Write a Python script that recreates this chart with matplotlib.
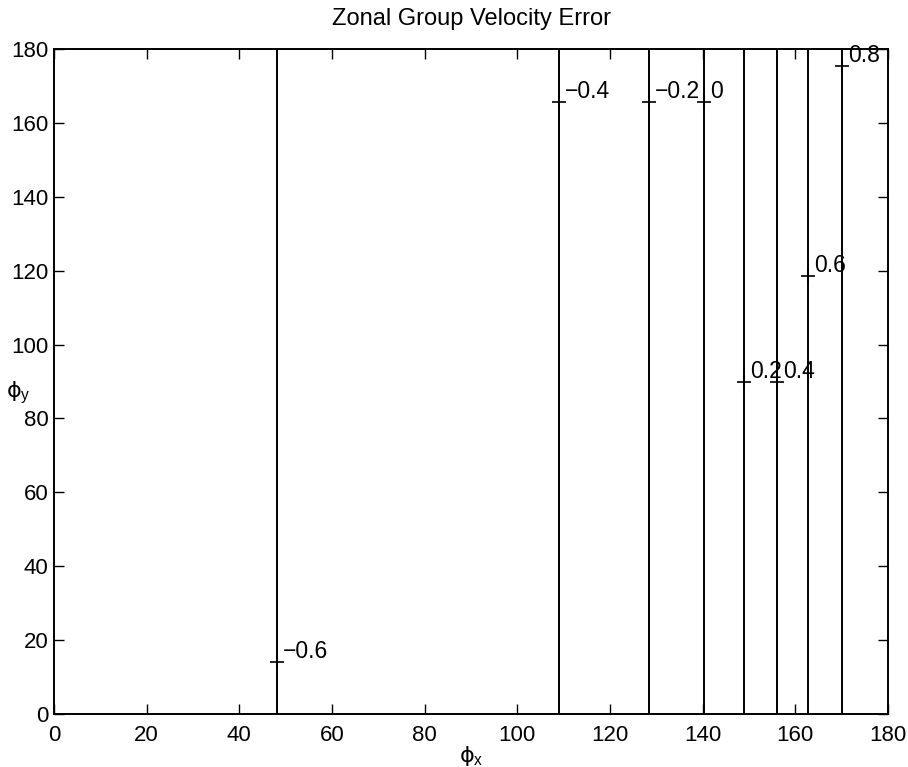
import matplotlib
matplotlib.use("Agg")
import matplotlib.pyplot as plt

plt.rcParams['font.family'] = ['Liberation Sans', 'DejaVu Sans']
plt.rcParams['mathtext.fontset'] = 'dejavusans'

# contour levels, their x positions (phi_x) and label y positions (phi_y)
levels = [-0.6, -0.4, -0.2, 0.0, 0.2, 0.4, 0.6, 0.8]
line_x = [48.1, 109.0, 128.4, 140.3, 148.9, 156.1, 162.8, 170.1]
label_y = [14.2, 165.7, 165.7, 165.7, 90.0, 90.0, 118.6, 175.4]
level_text = ['\u22120.6', '\u22120.4', '\u22120.2', '0', '0.2', '0.4', '0.6', '0.8']

xticks = [0, 20, 40, 60, 80, 100, 120, 140, 160, 180]
yticks = [0, 20, 40, 60, 80, 100, 120, 140, 160, 180]

fig = plt.figure(figsize=(9.08, 7.67), dpi=100)
ax = fig.add_axes([54/908, 53/767, 834/908, 665/767])

for x in line_x:
    ax.plot([x, x], [0, 180], color='black', lw=1.4)

for x, y, t in zip(line_x, label_y, level_text):
    ax.plot([x], [y], marker='+', color='black', ms=10, mew=1.2)
    ax.annotate(t, (x, y), xytext=(4.5, 7.5), textcoords='offset points',
                fontsize=16.5, ha='left', va='center', color='black')

ax.set_xlim(0, 180)
ax.set_ylim(0, 180)
ax.set_xticks(xticks)
ax.set_yticks(yticks)
ax.tick_params(direction='in', length=7, width=1, labelsize=16,
               top=True, right=True, colors='black')
ax.tick_params(axis='x', pad=8)
ax.tick_params(axis='y', pad=4)
for s in ax.spines.values():
    s.set_linewidth(1.4)

ax.set_title('Zonal Group Velocity Error', fontsize=17, pad=17)
ax.set_xlabel('$\\mathrm{\\phi}_\\mathregular{x}$', fontsize=16)
ax.xaxis.set_label_coords(0.5, -0.045)
ax.xaxis.label.set_va('top')
ax.set_ylabel('$\\mathrm{\\phi}_\\mathregular{y}$', fontsize=16, rotation=0,
              ha='center', va='center')
ax.yaxis.set_label_coords(-0.043, 0.483)

fig.savefig('out.png', dpi=100)
